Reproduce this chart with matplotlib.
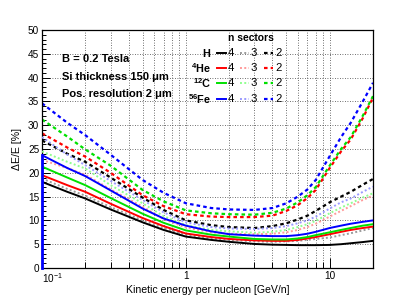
import matplotlib
matplotlib.use("Agg")
import matplotlib.pyplot as plt
from matplotlib.ticker import FixedLocator, FixedFormatter, MultipleLocator, NullFormatter

plt.rcParams['font.family'] = ['Liberation Sans', 'DejaVu Sans']
plt.rcParams['mathtext.fontset'] = 'custom'
plt.rcParams['mathtext.rm'] = 'Liberation Sans'
plt.rcParams['mathtext.bf'] = 'Liberation Sans:bold'
plt.rcParams['mathtext.it'] = 'Liberation Sans:italic'

# Kinetic energy per nucleon [GeV/n] sample points
energy = [0.1, 0.15, 0.2, 0.3, 0.5, 0.7, 1, 1.5, 2, 3, 4, 5, 6, 7, 8, 10, 12, 14, 17, 20]

# Delta E / E [%] for each ion and number of sectors
H_4  = [18.1, 16.0, 14.6, 12.3, 9.6, 8.0, 6.6, 5.9, 5.5, 5.05, 4.9, 4.85, 4.8, 4.8, 4.8, 4.85, 5.0, 5.2, 5.45, 5.7]
H_3  = [18.8, 16.6, 15.2, 12.8, 10.0, 8.4, 7.0, 6.2, 5.9, 5.6, 5.5, 5.6, 5.7, 5.9, 6.1, 6.4, 6.9, 7.3, 7.9, 8.4]
H_2  = [26.8, 24.0, 22.3, 19.0, 14.8, 12.2, 10.0, 9.0, 8.6, 8.4, 8.8, 9.4, 10.2, 11.0, 12.0, 13.8, 15.0, 16.0, 17.5, 18.7]
He_4 = [19.5, 17.4, 16.0, 13.5, 10.5, 8.8, 7.25, 6.5, 6.1, 5.8, 5.7, 5.7, 5.9, 6.2, 6.5, 7.1, 7.6, 8.0, 8.4, 8.7]
He_3 = [22.7, 21.0, 19.6, 16.5, 12.9, 10.3, 8.5, 7.5, 7.2, 7.1, 7.2, 7.5, 8.0, 8.6, 9.3, 10.8, 12.0, 13.0, 14.3, 15.2]
He_2 = [28.3, 25.3, 23.4, 20.0, 15.3, 13.0, 11.3, 10.8, 10.7, 10.7, 11.0, 12.0, 13.2, 14.7, 16.4, 21.0, 24.5, 27.0, 31.5, 35.8]
C_4  = [21.3, 19.0, 17.4, 14.7, 11.4, 9.5, 7.9, 7.0, 6.6, 6.1, 6.0, 6.0, 6.2, 6.5, 6.9, 7.5, 8.0, 8.4, 8.9, 9.2]
C_3  = [24.5, 22.3, 20.9, 17.4, 13.6, 10.9, 9.0, 8.0, 7.7, 7.4, 7.6, 8.0, 8.6, 9.2, 9.9, 11.5, 12.7, 13.6, 14.8, 15.7]
C_2  = [31.2, 27.6, 24.9, 21.5, 16.4, 14.0, 12.1, 11.5, 11.3, 11.2, 11.6, 12.5, 13.8, 15.3, 17.0, 21.5, 25.0, 27.5, 32.0, 36.1]
Fe_4 = [23.7, 21.0, 19.3, 16.3, 12.5, 10.4, 8.9, 7.7, 7.1, 6.8, 6.7, 6.7, 6.9, 7.2, 7.6, 8.4, 8.9, 9.3, 9.7, 10.0]
Fe_3 = [27.5, 23.8, 21.6, 18.3, 14.3, 11.7, 9.6, 8.6, 8.3, 8.2, 8.4, 8.8, 9.4, 10.0, 10.8, 12.5, 13.8, 14.6, 16.0, 17.1]
Fe_2 = [34.6, 30.5, 27.9, 23.8, 18.5, 15.8, 13.6, 12.6, 12.3, 12.2, 12.6, 13.6, 15.0, 16.5, 18.5, 23.5, 27.5, 30.5, 35.0, 38.9]

ions = ['H', 'He', 'C', 'Fe']
ion_labels = [r'$\mathbf{H}$', r'$\mathbf{^{4}He}$', r'$\mathbf{^{12}C}$', r'$\mathbf{^{56}Fe}$']
sectors = ['4', '3', '2']
x_tick_values = [0.1, 1, 10]
x_tick_labels = [r'$10^{-1}$', '1', '10']
series = {
    ('H', '4'): H_4, ('H', '3'): H_3, ('H', '2'): H_2,
    ('He', '4'): He_4, ('He', '3'): He_3, ('He', '2'): He_2,
    ('C', '4'): C_4, ('C', '3'): C_3, ('C', '2'): C_2,
    ('Fe', '4'): Fe_4, ('Fe', '3'): Fe_3, ('Fe', '2'): Fe_2,
}

colors = {
    ('H', '4'): '#000000', ('H', '3'): '#9a9a9a', ('H', '2'): '#000000',
    ('He', '4'): '#ff0000', ('He', '3'): '#ff9a9a', ('He', '2'): '#ff0000',
    ('C', '4'): '#00e000', ('C', '3'): '#90ff90', ('C', '2'): '#00e000',
    ('Fe', '4'): '#0000ff', ('Fe', '3'): '#9a9aff', ('Fe', '2'): '#0000ff',
}
styles = {'4': '-', '3': (0, (1, 1.2)), '2': (0, (1.6, 1.4))}
widths = {'4': 1.4, '3': 1.4, '2': 1.6}

fig = plt.figure(figsize=(4.15, 2.98), dpi=100)
ax = fig.add_axes([42 / 415, 30 / 298, 331 / 415, 238 / 298])

ax.set_xscale('log')
ax.set_xlim(0.1, 20)
ax.set_ylim(0, 50)

# grid
grid_kw = dict(color='#404040', linestyle=(0, (1, 2)), linewidth=0.6, zorder=0)
for xv in [0.2, 0.3, 0.4, 0.5, 0.6, 0.7, 0.8, 0.9, 1, 2, 3, 4, 5, 6, 7, 8, 9, 10]:
    ax.axvline(xv, **grid_kw)
for yv in range(5, 50, 5):
    ax.axhline(yv, **grid_kw)

order = [('H', '2'), ('He', '2'), ('C', '2'), ('Fe', '2'),
         ('H', '3'), ('He', '3'), ('C', '3'), ('Fe', '3'),
         ('H', '4'), ('He', '4'), ('C', '4'), ('Fe', '4')]
z = 2
for key in order:
    ax.plot(energy, series[key], color=colors[key], linestyle=styles[key[1]],
            linewidth=widths[key[1]], zorder=z)
    z += 0.1
# histogram left edge of last drawn series
ax.plot([energy[0], energy[0]], [0, Fe_4[0]], color=colors[('Fe', '4')], linewidth=2.0, zorder=z,
        clip_on=False)

# ticks
ax.yaxis.set_major_locator(MultipleLocator(5))
ax.yaxis.set_minor_locator(MultipleLocator(1))
ax.xaxis.set_major_locator(FixedLocator(x_tick_values))
ax.xaxis.set_major_formatter(FixedFormatter(x_tick_labels))
ax.xaxis.set_minor_locator(FixedLocator([0.2, 0.3, 0.4, 0.5, 0.6, 0.7, 0.8, 0.9,
                                         2, 3, 4, 5, 6, 7, 8, 9, 20]))
ax.xaxis.set_minor_formatter(NullFormatter())
ax.tick_params(axis='both', which='both', direction='in', labelsize=7.2, width=0.7)
ax.tick_params(axis='y', which='major', length=6, pad=2)
ax.tick_params(axis='y', which='minor', length=3)
ax.tick_params(axis='x', which='major', length=7, pad=2.5)
ax.tick_params(axis='x', which='minor', length=4)
for sp in ax.spines.values():
    sp.set_linewidth(0.9)

# shift the first x tick label so it starts at the axis edge
fig.canvas.draw()
first = ax.get_xticklabels()[0]
first.set_horizontalalignment('left')

ax.set_xlabel('Kinetic energy per nucleon [GeV/n]', fontsize=7.6, labelpad=0)
ax.set_ylabel('ΔE/E [%]', fontsize=7.6, labelpad=4)

# annotations (pixel coords -> figure fraction)
def fx(px):
    return px / 415
def fy(py):
    return 1 - py / 298

ann_kw = dict(fontsize=8, fontweight='bold', ha='left', va='center')
fig.text(fx(62), fy(59), 'B = 0.2 Tesla', **ann_kw)
fig.text(fx(62), fy(77), 'Si thickness 150 μm', **ann_kw)
fig.text(fx(62), fy(94), 'Pos. resolution 2 μm', **ann_kw)

# legend
fig.text(fx(228), fy(38), 'n sectors', fontsize=7.4, fontweight='bold', ha='left', va='center')
row_y = [53, 68, 83, 99]
col_x = [217, 240, 264]
for i, ion in enumerate(ions):
    yy = fy(row_y[i])
    fig.text(fx(211), yy, ion_labels[i], fontsize=7.8, ha='right', va='center')
    for j, sec in enumerate(sectors):
        key = (ion, sec)
        x0 = fx(col_x[j])
        x1 = fx(col_x[j] + 9)
        fig.add_artist(plt.Line2D([x0, x1], [yy, yy], color=colors[key],
                                  linestyle=styles[sec], linewidth=widths[sec]))
        fig.text(fx(col_x[j] + 11), yy, sec, fontsize=8.2, ha='left', va='center')

fig.savefig('out.png', dpi=100)
